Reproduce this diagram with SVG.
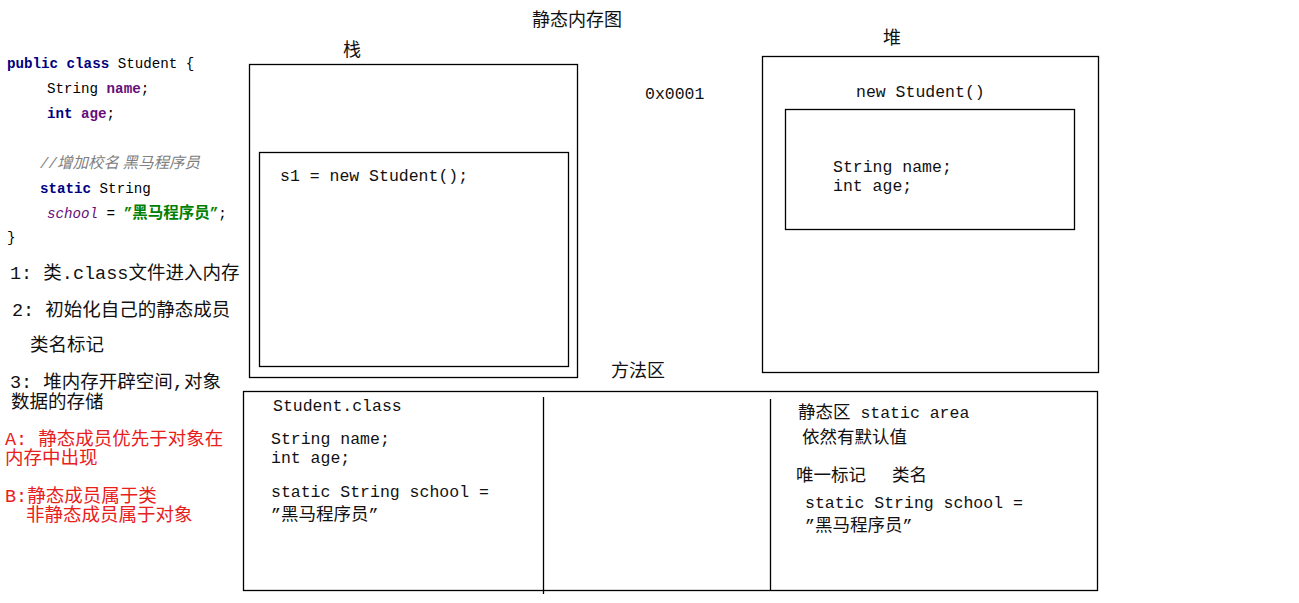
<svg xmlns="http://www.w3.org/2000/svg" width="1299" height="603" viewBox="0 0 1299 603">
<style>
.box{fill:none;stroke:#000;stroke-width:1.3}
.ln{stroke:#000;stroke-width:1.3}
.t{font-family:"Liberation Mono","Noto Sans CJK SC",monospace;font-size:16.5px;fill:#111}
.cj{font-family:"Noto Sans CJK SC",sans-serif;font-size:17.5px}
.c{font-family:"Noto Sans CJK SC",sans-serif;font-size:18px;fill:#111}
.n{font-family:"Liberation Mono","Noto Sans CJK SC",monospace;font-size:18.5px;fill:#111}
.red{fill:#e8201c}
.code{font-family:"Liberation Mono","Noto Sans CJK SC",monospace;font-size:14.2px;fill:#000}
.ccj{font-family:"Noto Sans CJK SC",sans-serif;font-size:15.5px}
.kw{fill:#000080;font-weight:bold}
.fld{fill:#660e7a;font-weight:bold}
.cm{fill:#808080;font-style:italic}
.sf{fill:#660e7a;font-style:italic}
.str{fill:#008000;font-weight:bold}
</style>
<rect width="1299" height="603" fill="#fff"/>
<text class="c" x="532" y="26">静态内存图</text>

<g id="code">
<text class="code" x="7" y="68"><tspan class="kw">public class</tspan> Student {</text>
<text class="code" x="47" y="93">String <tspan class="fld">name</tspan>;</text>
<text class="code" x="47" y="118"><tspan class="kw">int</tspan> <tspan class="fld">age</tspan>;</text>
<text class="code cm" x="40" y="168">//<tspan class="ccj">增加校名 黑马程序员</tspan></text>
<text class="code" x="40" y="193"><tspan class="kw">static</tspan> String</text>
<text class="code" x="47" y="218"><tspan class="sf">school</tspan> = <tspan class="str">”<tspan class="ccj">黑马程序员</tspan>”</tspan>;</text>
<text class="code" x="7" y="242">}</text>
</g>

<g id="notes">
<text class="n" x="10" y="279">1: 类.class文件进入内存</text>
<text class="n" x="12" y="316">2: 初始化自己的静态成员</text>
<text class="n" x="30" y="351">类名标记</text>
<text class="n" x="10" y="388">3: 堆内存开辟空间,对象</text>
<text class="n" x="11" y="408">数据的存储</text>
<text class="n red" x="5" y="445">A: 静态成员优先于对象在</text>
<text class="n red" x="5" y="464">内存中出现</text>
<text class="n red" x="5" y="502">B:静态成员属于类</text>
<text class="n red" x="26" y="521">非静态成员属于对象</text>
</g>

<g id="stack">
<text class="c" x="343" y="56">栈</text>
<rect class="box" x="249.5" y="64.5" width="328" height="313"/>
<rect class="box" x="259.5" y="152.5" width="309" height="214"/>
<text class="t" x="280" y="181">s1 = new Student();</text>
</g>

<g id="address">
<text class="t" x="645" y="99">0x0001</text>
</g>

<g id="heap">
<text class="c" x="883" y="44">堆</text>
<rect class="box" x="762.5" y="56.5" width="336" height="316"/>
<text class="t" x="856" y="97">new Student()</text>
<rect class="box" x="785.5" y="109.5" width="289" height="120"/>
<text class="t" x="833" y="172">String name;</text>
<text class="t" x="833" y="191">int age;</text>
</g>

<g id="method-area">
<text class="c" x="611" y="377">方法区</text>
<rect class="box" x="243.5" y="391.5" width="854" height="199"/>
<line class="ln" x1="543.5" y1="397" x2="543.5" y2="594"/>
<line class="ln" x1="770.5" y1="399" x2="770.5" y2="590"/>
<text class="t" x="273" y="411">Student.class</text>
<text class="t" x="271" y="444">String name;</text>
<text class="t" x="271" y="463">int age;</text>
<text class="t" x="271" y="497">static String school =</text>
<text class="t" x="271" y="520">”<tspan class="cj">黑马程序员</tspan>”</text>
<text class="t" x="798" y="418"><tspan class="cj">静态区</tspan> static area</text>
<text class="t" x="802" y="443"><tspan class="cj">依然有默认值</tspan></text>
<text class="t" x="796" y="481"><tspan class="cj">唯一标记</tspan><tspan x="892" class="cj">类名</tspan></text>
<text class="t" x="805" y="508">static String school =</text>
<text class="t" x="805" y="531">”<tspan class="cj">黑马程序员</tspan>”</text>
</g>
</svg>
